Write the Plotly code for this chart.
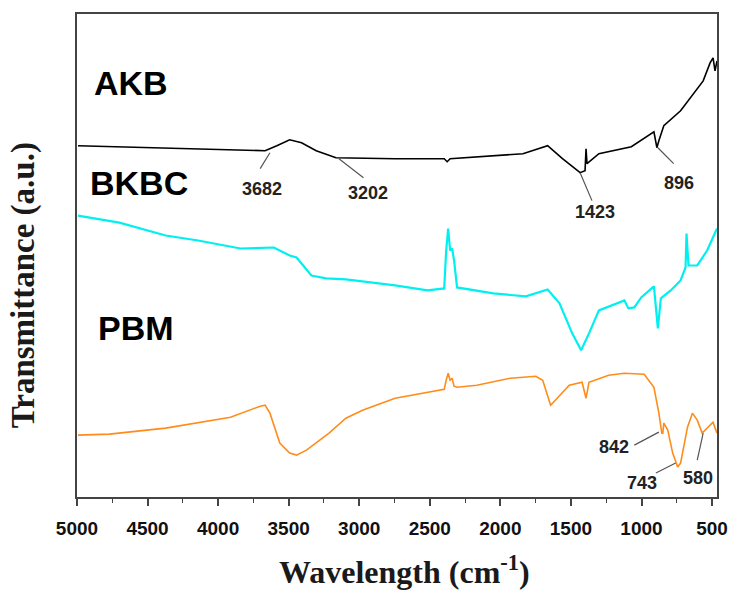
import plotly.graph_objects as go

# ---- data (wavenumber cm-1, transmittance a.u. offset) ----
akb_wn = [4993, 4491, 3933, 3667, 3584, 3493, 3409, 3305, 3165, 2746, 2398, 2377, 2356, 2049,
          1840, 1665, 1560, 1435, 1400, 1393, 1386, 1302, 1072, 912, 891, 877, 842, 723, 653,
          563, 514, 493, 479, 465]
akb_t = [352, 350, 348, 347, 352, 358, 355, 347, 340, 339, 339, 336, 339, 342,
         344, 352, 339, 325, 327, 349, 334, 344, 351, 366, 350, 357, 372, 387, 400,
         417, 435, 440, 427, 437]

bkbc_wn = [4993, 4700, 4372, 4142, 3842, 3605, 3493, 3444, 3339, 3235, 3095, 2746, 2516, 2398,
           2384, 2370, 2356, 2342, 2328, 2307, 2049, 1819, 1665, 1581, 1491, 1428, 1372, 1302,
           1121, 1093, 1051, 1002, 912, 884, 863, 793, 723, 688, 681, 667, 605, 535, 465]
bkbc_t = [282, 275, 262, 257, 249, 250, 242, 240, 222, 219, 218, 212, 207, 209,
          247, 269, 247, 249, 237, 210, 204, 201, 208, 194, 164, 147, 164, 187,
          197, 189, 190, 200, 211, 169, 199, 207, 217, 230, 264, 232, 232, 247, 269]

pbm_wn = [4993, 4770, 4372, 3912, 3702, 3667, 3633, 3563, 3493, 3444, 3374, 3214, 3095, 2977,
          2746, 2516, 2398, 2384, 2370, 2356, 2342, 2328, 2307, 2167, 1930, 1749, 1700, 1644,
          1581, 1512, 1421, 1393, 1372, 1233, 1121, 981, 912, 877, 856, 849, 842, 814, 779,
          744, 723, 674, 639, 605, 570, 535, 493, 465]
pbm_t = [62, 63, 69, 80, 91, 92, 84, 54, 44, 42, 47, 64, 79, 87,
         99, 105, 108, 117, 124, 117, 119, 111, 110, 112, 119, 121, 117, 92,
         102, 112, 115, 99, 115, 122, 124, 123, 110, 84, 64, 64, 74, 67, 44,
         30, 34, 70, 84, 77, 64, 69, 75, 64]

sample_names = ["AKB", "BKBC", "PBM"]
sample_label_pos = [(4895, 415), (4922, 315), (4865, 169)]

peak_labels = ["3682", "3202", "1423", "896", "842", "743", "580"]
peak_line_from = [(3633, 345), (3144, 339), (1435, 325), (884, 350), (877, 65), (758, 34), (563, 64)]
peak_line_to = [(3702, 329), (2970, 320), (1351, 297), (772, 334), (1051, 52), (898, 24), (605, 37)]
peak_text_pos = [(3688, 309), (2935, 305), (1330, 286), (737, 315), (1198, 50), (995, 14), (598, 19)]

x_ticks = [5000, 4500, 4000, 3500, 3000, 2500, 2000, 1500, 1000, 500]

fig = go.Figure()
fig.add_trace(go.Scatter(x=akb_wn, y=akb_t, mode="lines", line=dict(color="#000000", width=1.6), name="AKB"))
fig.add_trace(go.Scatter(x=bkbc_wn, y=bkbc_t, mode="lines", line=dict(color="#00f0f0", width=2.2), name="BKBC"))
fig.add_trace(go.Scatter(x=pbm_wn, y=pbm_t, mode="lines", line=dict(color="#ff8c1a", width=1.6), name="PBM"))

for name, (x, y) in zip(sample_names, sample_label_pos):
    fig.add_annotation(x=x, y=y, xref="x", yref="y", text=name, showarrow=False, xanchor="left",
                       yanchor="middle", font=dict(family="Liberation Sans", size=34, color="#000", weight="bold"))

for lab, p0, p1, pt in zip(peak_labels, peak_line_from, peak_line_to, peak_text_pos):
    fig.add_shape(type="line", xref="x", yref="y", x0=p0[0], y0=p0[1], x1=p1[0], y1=p1[1],
                  line=dict(color="#555555", width=1.2))
    fig.add_annotation(x=pt[0], y=pt[1], xref="x", yref="y", text=lab, showarrow=False,
                       font=dict(family="Liberation Sans", size=18, color="#222", weight="bold"))

fig.add_annotation(x=0.512, y=-0.152, xref="paper", yref="paper", yanchor="middle", showarrow=False,
                   text="Wavelength (cm<sup>-1</sup>)",
                   font=dict(family="Liberation Serif", size=32, color="#1a1a1a", weight="bold"))
fig.add_annotation(x=-0.083, y=0.438, xref="paper", yref="paper", xanchor="center", yanchor="middle",
                   showarrow=False, textangle=-90, text="Transmittance (a.u.)",
                   font=dict(family="Liberation Serif", size=33, color="#1a1a1a", weight="bold"))

fig.update_layout(
    width=740, height=590,
    margin=dict(l=77, r=13, t=13, b=93),
    paper_bgcolor="white", plot_bgcolor="white",
    showlegend=False,
    xaxis=dict(range=[5000, 465], tickvals=x_ticks, ticktext=[str(v) for v in x_ticks],
               ticks="outside", ticklen=7, tickwidth=1.5, tickcolor="#444",
               minor=dict(dtick=250, tick0=0, ticks="outside", ticklen=4, tickcolor="#444", tickwidth=1.2),
               showline=True, linecolor="#444", linewidth=1.5, mirror=True, showgrid=False, zeroline=False,
               ticklabelstandoff=6,
               tickfont=dict(family="Liberation Sans", size=19, color="#111", weight="bold")),
    yaxis=dict(range=[0, 484], showticklabels=False, ticks="", showline=True, linecolor="#444",
               linewidth=1.5, mirror=True, showgrid=False, zeroline=False),
)

fig.write_html("out.html")
